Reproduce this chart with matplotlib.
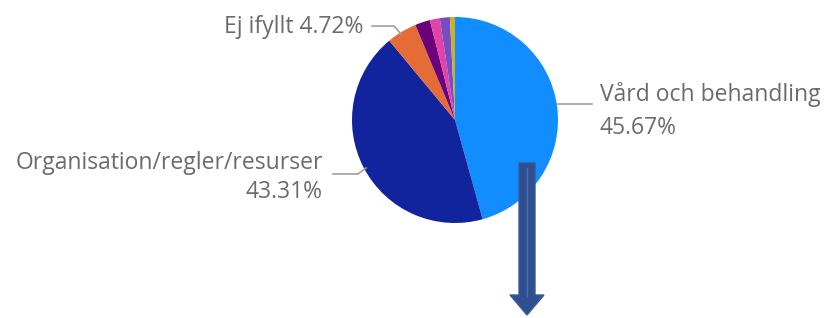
import matplotlib
matplotlib.use("Agg")
import matplotlib.pyplot as plt
from matplotlib.patches import FancyArrow

# slice values (share of answers), clockwise from 12 o'clock
labels = ["Vård och behandling", "Organisation/regler/resurser", "Ej ifyllt",
          "Övrigt 1", "Övrigt 2", "Övrigt 3", "Övrigt 4"]
values = [45.67, 43.31, 4.72, 2.36, 1.57, 1.57, 0.79]
colors = ["#118DFF", "#12239E", "#E66C37", "#6B007B", "#E044A7", "#744EC2", "#C9B320"]

W, H = 833, 318
fig = plt.figure(figsize=(W / 100, H / 100), dpi=100)
ax = fig.add_axes([0, 0, 1, 1])

def py(y):
    # pixel row (from top) to data y
    return H - y

cx, cy, r = 455, 120, 103
ax.pie(values, colors=colors, startangle=90, counterclock=False,
       center=(cx, py(cy)), radius=r, frame=True,
       wedgeprops=dict(linewidth=0))
ax.set_xlim(0, W)
ax.set_ylim(0, H)
ax.set_aspect("equal")
ax.axis("off")

txt = dict(color="#6b6b6b", fontsize=16.5, family="Open Sans")
line = dict(color="#a0a0a0", lw=1.2)

# Vård och behandling
ax.plot([558, 592], [py(104), py(104)], **line)
ax.text(600, py(101), labels[0], ha="left", va="baseline", **txt)
ax.text(600, py(134), f"{values[0]:.2f}%", ha="left", va="baseline", **txt)

# Organisation/regler/resurser
ax.plot([333, 358, 366], [py(174), py(174), py(168)], **line)
ax.text(323, py(169), labels[1], ha="right", va="baseline", **txt)
ax.text(323, py(198), f"{values[1]:.2f}%", ha="right", va="baseline", **txt)

# Ej ifyllt
ax.plot([372, 394, 401], [py(26), py(26), py(34)], **line)
ax.text(363, py(33), f"{labels[2]} {values[2]:.2f}%", ha="right", va="baseline", **txt)

# arrow below the pie
ax.add_patch(FancyArrow(527, py(163), 0, -(315 - 163), width=16, head_width=34,
                        head_length=20, length_includes_head=True,
                        facecolor="#2F4F8F", edgecolor="#3a5a9a", lw=1))
ax.plot([527, 527], [py(168), py(296)], color="#4a6fb0", lw=1)

fig.savefig("out.png", dpi=100)
